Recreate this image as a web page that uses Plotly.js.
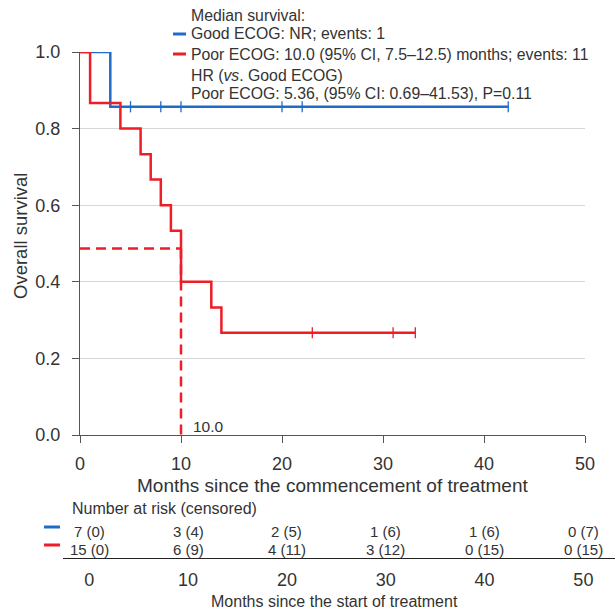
<!DOCTYPE html>
<html><head><meta charset="utf-8">
<script src="https://cdn.plot.ly/plotly-3.0.1.min.js"></script>
<style>body{margin:0;padding:0;background:#fff}#chart{width:615px;height:610px}</style>
</head><body><div id="chart"></div>
<script>
// ---- data ----
const goodTimes = [0, 3, 42.4];
const goodSurv = [1.0, 0.857, 0.857];
const goodCensorTimes = [5, 8, 10, 20, 22, 42.4];
const goodCensorSurv = [0.857, 0.857, 0.857, 0.857, 0.857, 0.857];

const poorTimes = [0, 1, 4, 6, 7, 8, 9, 10, 13, 14, 33.2];
const poorSurv = [1.0, 0.867, 0.800, 0.733, 0.667, 0.600, 0.533, 0.400, 0.333, 0.267, 0.267];
const poorCensorTimes = [23, 31, 33.2];
const poorCensorSurv = [0.267, 0.267, 0.267];

const medianTime = 10.0;
const medianLevel = 0.487;

const riskTimes = [0, 10, 20, 30, 40, 50];
const goodAtRisk = [7, 3, 2, 1, 1, 0];
const goodCensored = [0, 4, 5, 6, 6, 7];
const poorAtRisk = [15, 6, 4, 3, 0, 0];
const poorCensored = [0, 9, 11, 12, 15, 15];

const xTicks = [0, 10, 20, 30, 40, 50];
const yTicks = [0, 0.2, 0.4, 0.6, 0.8, 1.0];

const legendLines = [
  'Median survival:',
  'Good ECOG: NR; events: 1',
  'Poor ECOG: 10.0 (95% CI, 7.5\u201312.5) months; events: 11',
  'HR (<i>vs</i>. Good ECOG)',
  'Poor ECOG: 5.36, (95% CI: 0.69\u201341.53), P=0.11'
];

const BLUE = '#1e6cc8';
const RED = '#ee1d26';
const TXT = '#333333';
const W = 615, H = 610;
const px = v => v / W;
const py = v => 1 - v / H;

const traces = [
  {x: goodTimes, y: goodSurv, type: 'scatter', mode: 'lines', line: {shape: 'hv', color: BLUE, width: 2.5}, cliponaxis: false},
  {x: goodCensorTimes, y: goodCensorSurv, type: 'scatter', mode: 'markers', marker: {symbol: 'line-ns-open', size: 8, color: BLUE, line: {color: BLUE, width: 1.3}}, cliponaxis: false},
  {x: poorTimes, y: poorSurv, type: 'scatter', mode: 'lines', line: {shape: 'hv', color: RED, width: 2.5}, cliponaxis: false},
  {x: poorCensorTimes, y: poorCensorSurv, type: 'scatter', mode: 'markers', marker: {symbol: 'line-ns-open', size: 8, color: RED, line: {color: RED, width: 1.3}}, cliponaxis: false},
  {x: [0, medianTime], y: [medianLevel, medianLevel], type: 'scatter', mode: 'lines', line: {color: RED, width: 2.5, dash: '10px,6px'}, cliponaxis: false},
  {x: [medianTime, medianTime], y: [medianLevel, 0], type: 'scatter', mode: 'lines', line: {color: RED, width: 2.5, dash: '10px,6px'}, cliponaxis: false}
];

const annotations = [];
// legend text
const legendY = [15, 34, 54, 75, 94];
legendLines.forEach((t, i) => annotations.push({
  text: t, xref: 'paper', yref: 'paper', x: px(189), y: py(legendY[i]), xanchor: 'left', yanchor: 'middle',
  showarrow: false, font: {size: 15.8, color: TXT}
}));
// median label
annotations.push({text: '10.0', xref: 'x', yref: 'y', x: medianTime, y: 0.022, xanchor: 'left', yanchor: 'middle', xshift: 10, showarrow: false, font: {size: 15.5, color: TXT}});
// risk table
annotations.push({text: 'Number at risk (censored)', xref: 'paper', yref: 'paper', x: px(70), y: py(508), xanchor: 'left', yanchor: 'middle', showarrow: false, font: {size: 16, color: TXT}});
riskTimes.forEach((t, i) => {
  annotations.push({text: goodAtRisk[i] + ' (' + goodCensored[i] + ')', xref: 'x2', yref: 'paper', x: t, y: py(531), xanchor: 'center', yanchor: 'middle', showarrow: false, font: {size: 15, color: TXT}});
  annotations.push({text: poorAtRisk[i] + ' (' + poorCensored[i] + ')', xref: 'x2', yref: 'paper', x: t, y: py(549), xanchor: 'center', yanchor: 'middle', showarrow: false, font: {size: 15, color: TXT}});
});
annotations.push({text: 'Months since the start of treatment', xref: 'paper', yref: 'paper', x: px(334), y: py(601), xanchor: 'center', yanchor: 'middle', showarrow: false, font: {size: 16, color: TXT}});
annotations.push({text: 'Overall survival', xref: 'paper', yref: 'paper', x: px(20), y: py(236), xanchor: 'center', yanchor: 'middle', textangle: -90, showarrow: false, font: {size: 18.5, color: TXT}});
annotations.push({text: 'Months since the commencement of treatment', xref: 'paper', yref: 'paper', x: px(332), y: py(485), xanchor: 'center', yanchor: 'middle', showarrow: false, font: {size: 19, color: TXT}});

const shapes = [
  {type: 'rect', xref: 'paper', yref: 'paper', x0: px(170), x1: 1, y0: py(104), y1: 1, fillcolor: '#ffffff', line: {width: 0}, layer: 'between'},
  {type: 'line', xref: 'paper', yref: 'paper', x0: px(173), x1: px(186), y0: py(34), y1: py(34), line: {color: BLUE, width: 3}},
  {type: 'line', xref: 'paper', yref: 'paper', x0: px(173), x1: px(186), y0: py(54), y1: py(54), line: {color: RED, width: 3}},
  {type: 'line', xref: 'paper', yref: 'paper', x0: px(44), x1: px(60), y0: py(527), y1: py(527), line: {color: BLUE, width: 3}},
  {type: 'line', xref: 'paper', yref: 'paper', x0: px(44), x1: px(60), y0: py(545), y1: py(545), line: {color: RED, width: 3}}
];

const layout = {
  width: W, height: H, margin: {l: 0, r: 0, t: 0, b: 0},
  paper_bgcolor: '#fff', plot_bgcolor: '#fff', showlegend: false,
  font: {family: '"Liberation Sans", Arial, sans-serif', color: TXT, size: 15},
  xaxis: {domain: [px(80), px(585)], anchor: 'y', range: [0, 50], tickvals: xTicks, showgrid: false, zeroline: false,
    showline: true, linecolor: '#555', linewidth: 1, ticks: 'outside', ticklen: 7, tickcolor: '#555',
    ticklabelstandoff: 5, tickfont: {size: 18, color: TXT}},
  yaxis: {domain: [py(435), py(52)], anchor: 'x', range: [0, 1], tickvals: yTicks, tickformat: '.1f', showgrid: true,
    gridcolor: '#d6d6d6', gridwidth: 1, zeroline: false, showline: true, linecolor: '#555', linewidth: 1,
    ticks: 'outside', ticklen: 7, tickcolor: '#555', ticklabelstandoff: 8, tickfont: {size: 18, color: TXT}},
  xaxis2: {domain: [px(63.3), 1], anchor: 'y2', range: [-2.63, 53.2], tickvals: xTicks, showgrid: false, zeroline: false,
    showline: true, linecolor: '#222', linewidth: 1.3, ticks: '', ticklabelstandoff: 5, tickfont: {size: 18, color: TXT}},
  yaxis2: {domain: [py(558), py(505)], anchor: 'x2', range: [0, 1], visible: false},
  annotations: annotations,
  shapes: shapes
};

Plotly.newPlot('chart', traces, layout, {displayModeBar: false, staticPlot: true});
</script></body></html>
